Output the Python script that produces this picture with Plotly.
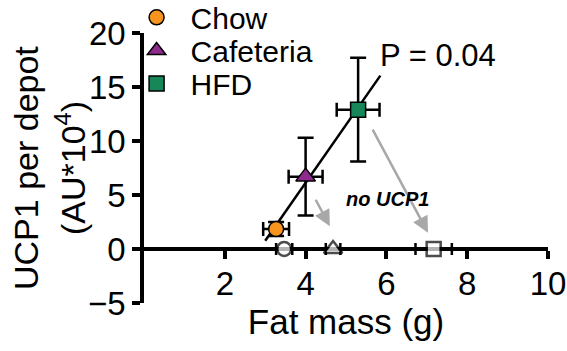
import numpy as np
import plotly.graph_objects as go

# ---- data ----
groups = ["Chow", "Cafeteria", "HFD"]
fat_mass = [3.27, 4.0, 5.3]
fat_mass_err = [0.32, 0.42, 0.53]
ucp1 = [1.85, 6.7, 12.9]
ucp1_err = [0.65, 3.6, 4.8]

noucp1_fat_mass = [3.47, 4.68, 7.17]
noucp1_fat_mass_err = [0.2, 0.18, 0.45]
noucp1_ucp1 = [0, 0, 0]

fit_x_range = [3.0, 5.85]

# arrows: (from_x, from_y, to_x, to_y)
arrow_from_x = [5.64, 4.23]
arrow_from_y = [11.2, 4.7]
arrow_to_x = [7.03, 4.6]
arrow_to_y = [1.5, 2.1]

x_ticks = [2, 4, 6, 8, 10]
y_ticks = [-5, 0, 5, 10, 15, 20]

colors = ["#F7941D", "#8E2A8E", "#17875A"]
symbols = ["circle", "triangle-up", "square"]
sizes = [15, 17, 15]

FONT = "Liberation Sans, Arial, sans-serif"
legend_ids = ["legend", "legend2", "legend3"]
legend_rows_y = [1.058, 0.935, 0.813]

fig = go.Figure()

# regression line
slope, intercept = np.polyfit(fat_mass, ucp1, 1)
fx = np.array(fit_x_range)
fig.add_trace(go.Scatter(x=fx, y=slope * fx + intercept, mode="lines",
                         line=dict(color="black", width=2.5), showlegend=False,
                         hoverinfo="skip"))

# no-UCP1 open markers
fig.add_trace(go.Scatter(
    x=noucp1_fat_mass, y=noucp1_ucp1, mode="markers",
    marker=dict(symbol=["circle", "triangle-up", "square"], size=[14, 16, 14],
                color="white", line=dict(color="black", width=2.5)),
    error_x=dict(type="data", array=noucp1_fat_mass_err, color="black",
                 thickness=2.5, width=6),
    showlegend=False, cliponaxis=False))

for i, g in enumerate(groups):
    fig.add_trace(go.Scatter(
        x=[fat_mass[i]], y=[ucp1[i]], mode="markers", name=g,
        legend=legend_ids[i],
        marker=dict(symbol=symbols[i], size=sizes[i], color=colors[i],
                    line=dict(color="black", width=1.5)),
        error_x=dict(type="data", array=[fat_mass_err[i]], color="black",
                     thickness=2.5, width=7),
        error_y=dict(type="data", array=[ucp1_err[i]], color="black",
                     thickness=2.5, width=8),
        cliponaxis=False))

annotations = []
for fx0, fy0, tx, ty in zip(arrow_from_x, arrow_from_y, arrow_to_x, arrow_to_y):
    annotations.append(dict(x=tx, y=ty, ax=fx0, ay=fy0, xref="x", yref="y",
                            axref="x", ayref="y", text="", showarrow=True,
                            arrowhead=2, arrowsize=1.3, arrowwidth=2.5,
                            arrowcolor="#A8A8A8"))

annotations.append(dict(x=6.02, y=4.6, xref="x", yref="y", text="<b><i>no UCP1</i></b>",
                        showarrow=False, font=dict(size=20, family=FONT, color="black")))
annotations.append(dict(x=7.28, y=17.9, xref="x", yref="y", text="P = 0.04",
                        showarrow=False, font=dict(size=31, family=FONT, color="black")))
# y-axis title (two lines)
annotations.append(dict(x=0, y=0.5, xref="paper", yref="paper", xanchor="center",
                        yanchor="middle", xshift=-118, textangle=-90,
                        text="UCP1 per depot", showarrow=False,
                        font=dict(size=34, family=FONT, color="black")))
annotations.append(dict(x=0, y=0.5, xref="paper", yref="paper", xanchor="center",
                        yanchor="middle", xshift=-74, textangle=-90,
                        text="(AU*10<sup>4</sup>)", showarrow=False,
                        font=dict(size=34, family=FONT, color="black")))

legend_common = dict(x=-0.053, xanchor="left", yanchor="middle",
                     font=dict(size=30, family=FONT, color="black"),
                     bgcolor="rgba(0,0,0,0)", itemwidth=58, tracegroupgap=0)

fig.update_layout(
    width=567, height=351,
    margin=dict(l=144, r=19, t=33, b=48, autoexpand=False),
    paper_bgcolor="white", plot_bgcolor="white",
    font=dict(family=FONT, color="black"),
    showlegend=True,
    legend=dict(y=legend_rows_y[0], **legend_common),
    legend2=dict(y=legend_rows_y[1], **legend_common),
    legend3=dict(y=legend_rows_y[2], **legend_common),
    xaxis=dict(range=[0, 10], anchor="free", position=0.2, showline=True,
               linecolor="black", linewidth=3.5, ticks="outside", ticklen=8,
               tickwidth=3.5, tickcolor="black", tickvals=x_ticks,
               ticklabelstandoff=-3, layer="below traces",
               tickfont=dict(size=33, family=FONT, color="black"),
               showgrid=False, zeroline=False, automargin=False,
               title=dict(text="Fat mass (g)", standoff=0,
                          font=dict(size=35, family=FONT, color="black"))),
    yaxis=dict(range=[-5, 20], showline=True, linecolor="black", linewidth=3.5,
               ticks="outside", ticklen=8, tickwidth=3.5, tickcolor="black",
               tickvals=y_ticks, layer="below traces",
               tickfont=dict(size=33, family=FONT, color="black"),
               showgrid=False, zeroline=False, automargin=False),
    annotations=annotations,
)

fig.write_html("out.html",
               config={"displayModeBar": False},
               post_script="document.body.style.margin='0px';"
                           "document.body.style.overflow='hidden';")
